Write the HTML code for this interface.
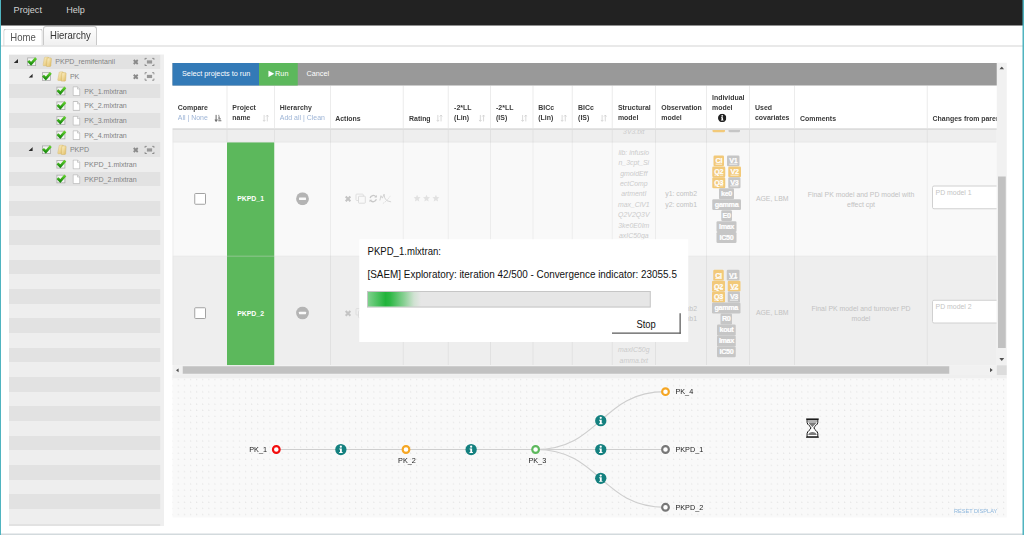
<!DOCTYPE html>
<html>
<head>
<meta charset="utf-8">
<title>Hierarchy</title>
<style>
html,body{margin:0;padding:0;}
body{width:1024px;height:535px;overflow:hidden;background:#fff;position:relative;font-family:"Liberation Sans",sans-serif;color:#333;}
.abs{position:absolute;}
#frameL{left:0;top:0;width:1.2px;height:535px;background:#50b4c0;z-index:50;}
#frameR{left:1022.4px;top:0;width:1.6px;height:535px;background:#50b4c0;z-index:50;}
#frameB{left:1px;top:533.6px;width:1022px;height:1.4px;background:#d3dadd;z-index:49;}
#topbar{left:0;top:0;width:1024px;height:25.4px;background:#222;}
#topbar span{position:absolute;top:5px;font-size:9.1px;color:#d2d2d2;line-height:10px;white-space:nowrap;}
.tab{position:absolute;box-sizing:border-box;border:1px solid #c9c9c9;border-bottom:none;border-radius:3px 3px 0 0;font-size:10.1px;line-height:10px;white-space:nowrap;}
.tab span{transform:scaleX(0.945);transform-origin:0 0;}
#tabline{left:1px;top:45.4px;width:1022px;height:1px;background:#d4d4d4;}
/* tree */
#treePanel{left:9px;top:54.4px;width:155px;height:471.6px;background:#efefef;overflow:hidden;}
#treeStripes{left:0;top:0;width:151.2px;height:480px;background:repeating-linear-gradient(to bottom,#e2e2e2 0,#e2e2e2 14.66px,#eeeeee 14.66px,#eeeeee 29.32px);}
.trow{position:absolute;left:0;height:14.66px;width:151px;font-size:7.08px;line-height:14.66px;color:#828282;white-space:nowrap;}
.trow .lbl{position:absolute;top:0.2px;}
.trow svg{position:absolute;}
/* main table */
#toolbar{left:172.5px;top:62.9px;width:824.2px;height:22.5px;background:#999;z-index:2;}
#tbBlue{left:0;top:0;width:86.6px;height:22.5px;background:#337ab7;}
#tbGreen{left:86.6px;top:0;width:38.7px;height:22.5px;background:#5cb85c;}
#toolbar span{position:absolute;top:5.8px;font-size:7.27px;line-height:10px;color:#fff;white-space:nowrap;}
#thead{left:172.5px;top:85.4px;width:824.2px;height:42.7px;background:#fff;overflow:hidden;}
#theadBorder{left:172.5px;top:128.3px;width:824.2px;height:1.8px;background:#dcdcdc;z-index:2;}
.vline{position:absolute;width:1px;background:#e4e4e4;}
.th{position:absolute;margin-top:0.3px;font-size:6.95px;font-weight:bold;color:#3a3a3a;line-height:10.35px;white-space:nowrap;}
.th a{font-weight:normal;color:#9db4d6;}
#tbody{left:172.5px;top:129.8px;width:824.2px;height:235.4px;overflow:hidden;background:#f9f9f9;}
.cell{position:absolute;white-space:nowrap;}
.sm{font-size:6.9px;line-height:10.45px;color:#c2c2c2;}
.it{font-style:italic;color:#cbcbcb;}
.pn{font-size:6.9px;font-weight:bold;color:#fff;line-height:10px;}
.tag{position:absolute;height:10.9px;border-radius:1.3px;color:#fff;font-size:7.2px;font-weight:bold;line-height:10.7px;text-align:center;white-space:nowrap;overflow:hidden;letter-spacing:-0.35px;-webkit-text-stroke:0.22px #fff;}
.tag.y{background:#f2c979;}
.tag.g{background:#c6c6c6;}
.tag u{text-decoration-thickness:0.7px;text-underline-offset:0.6px;}
.ta{box-sizing:border-box;width:80px;height:23.8px;border:1px solid #d0d0d0;border-radius:2px;background:#fff;font-size:6.9px;line-height:10px;color:#c4c4c4;padding:1.1px 0 0 2.6px;white-space:nowrap;}
/* scrollbars */
#vsb{left:996.8px;top:62.8px;width:9.9px;height:302.4px;background:#f1f1f1;}
#hsb{left:172.5px;top:365.2px;width:824.3px;height:9.9px;background:#f1f1f1;}
#sbCorner{left:996.8px;top:365.2px;width:9.9px;height:9.9px;background:#dcdcdc;}
/* graph */
#graph{left:172.5px;top:378.6px;width:834.2px;height:138.8px;background-color:#f9f9f9;overflow:hidden;background-image:radial-gradient(circle at 0.6px 1.1px,#e6e6e6 0,#e6e6e6 0.45px,rgba(230,230,230,0) 0.9px);background-size:6.114px 6.14px;background-position:-0.9px 0px;}
/* dialog */
#dlg{left:359.2px;top:239.3px;width:329px;height:102.6px;background:#fff;z-index:20;}
#dlg .t{position:absolute;left:8.4px;font-size:9.65px;line-height:11px;color:#111;white-space:nowrap;}
</style>
</head>
<body>
<div id="zz" style="position:absolute;left:0;top:0;width:1024px;height:535px;zoom:4;transform:scale(0.25);transform-origin:0 0;overflow:hidden">
<svg width="0" height="0" style="position:absolute">
<defs>
<linearGradient id="gfold" x1="0" y1="0" x2="1" y2="1"><stop offset="0" stop-color="#fff6d2"/><stop offset="1" stop-color="#dfb95c"/></linearGradient>
<linearGradient id="ggrn" x1="0" y1="0" x2="0" y2="1"><stop offset="0" stop-color="#63d22e"/><stop offset="1" stop-color="#1f8f12"/></linearGradient>
<symbol id="chk" viewBox="0 0 11 11" overflow="visible">
<rect x="0.9" y="1.9" width="8" height="7.7" fill="#f3f3f3" stroke="#a9a9a9" stroke-width="0.8"/>
<path d="M1.5 4.9 L4.3 7.8 L9.3 2.2" fill="none" stroke="url(#ggrn)" stroke-width="2.7" stroke-linejoin="miter"/>
</symbol>
<symbol id="fold" viewBox="0 0 10 10.4" overflow="visible">
<path d="M1.2 9.2 Q0.6 9.2 0.8 8.4 L2.2 1.4 Q2.4 0.5 3.2 0.5 L5.6 0.5 Q6.4 0.5 6.3 1.4 L5.6 9.2 Z" fill="url(#gfold)" stroke="#d9bd72" stroke-width="0.5"/>
<path d="M4.4 10 L4.9 2.2 Q5 1.4 5.8 1.4 L8.2 1.4 Q9.2 1.4 9.1 2.4 L8.6 9.2 Q8.5 10 7.8 10 Z" fill="url(#gfold)" stroke="#d2b463" stroke-width="0.5"/>
</symbol>
<symbol id="file" viewBox="0 0 8 10" overflow="visible">
<path d="M0.6 0.5 H5 L7.3 2.8 V9.4 H0.6 Z" fill="#fff" stroke="#b5b5b5" stroke-width="0.8"/>
<path d="M5 0.5 V2.8 H7.3" fill="#eee" stroke="#b5b5b5" stroke-width="0.6"/>
</symbol>
<symbol id="tx" viewBox="0 0 6 6" overflow="visible">
<path d="M1 1 L5 5 M5 1 L1 5" stroke="#8a8a8a" stroke-width="1.9" fill="none"/>
</symbol>
<symbol id="exp" viewBox="0 0 10 8.4" overflow="visible">
<path d="M0.4 2.2 V0.4 H2.4 M7.6 0.4 H9.6 V2.2 M9.6 6.2 V8 H7.6 M2.4 8 H0.4 V6.2" stroke="#7c7c7c" stroke-width="1" fill="none"/>
<rect x="2.4" y="2.6" width="5.2" height="3.2" fill="#979797"/>
</symbol>
<symbol id="info" viewBox="0 0 12 12" overflow="visible">
<circle cx="6" cy="6" r="5.8" fill="#14807f"/>
<circle cx="6" cy="3.1" r="1.15" fill="#fff"/>
<path d="M4.4 5 H7 V8.6 H7.8 V9.6 H4.3 V8.6 H5.1 V6 H4.4 Z" fill="#fff"/>
</symbol>
<symbol id="acts" viewBox="0 0 48 12" overflow="visible">
<path d="M1.2 4 L5.9 8.8 M5.9 4 L1.2 8.8" stroke="#c4c4c4" stroke-width="2" fill="none"/>
<rect x="11.5" y="1.6" width="7.3" height="6.4" rx="0.8" fill="none" stroke="#d9d9d9" stroke-width="0.8"/>
<rect x="14" y="3.7" width="6.8" height="7" rx="0.8" fill="#f9f9f9" stroke="#d6d6d6" stroke-width="0.8"/>
<path d="M25.6 5.6 A3.2 3.2 0 0 1 31.4 4.4 M31.8 6.6 A3.2 3.2 0 0 1 26 7.8" stroke="#c9c9c9" stroke-width="1.3" fill="none"/>
<path d="M32.4 2.4 V5 H29.8 Z M25 9.8 V7.2 H27.6 Z" fill="#c9c9c9"/>
<path d="M35.4 8 L36.4 3.2 L37.8 5.6 L39.6 1.6 L40.2 5.4 Q41.4 9 46.6 9.4" stroke="#cfcfcf" stroke-width="0.9" fill="none"/>
<path d="M38.4 11 Q43 8 45.8 3.4" stroke="#d4d4d4" stroke-width="0.7" fill="none" stroke-dasharray="1.6 0.8"/>
</symbol>
<symbol id="stars" viewBox="0 0 27 8" overflow="visible">
<path id="st1" d="M3.6 0.3 L4.6 2.6 L7.1 2.8 L5.2 4.5 L5.8 7 L3.6 5.7 L1.4 7 L2 4.5 L0.1 2.8 L2.6 2.6 Z" fill="#e1e1e1"/>
<use href="#st1" x="9.4"/><use href="#st1" x="18.8"/>
</symbol>
</defs>
</svg>
<div id="topbar" class="abs"><span style="left:13.6px">Project</span><span style="left:66.2px">Help</span></div>
<div class="tab" style="left:3.2px;top:28.4px;width:39.6px;height:17.6px;background:#fff;color:#555;"><span style="position:absolute;left:6px;top:3.2px">Home</span></div>
<div class="tab" style="left:43px;top:26px;width:54px;height:19.6px;background:linear-gradient(#fdfdfd,#f0f0f0);color:#333;"><span style="position:absolute;left:6px;top:3.7px;">Hierarchy</span></div>
<div id="tabline" class="abs"></div>

<div id="treePanel" class="abs">
  <div id="treeStripes" class="abs"></div>
  <!--TREE-->
  <div class="trow" style="top:0.00px"><svg style="left:4.8px;top:4.7px" width="4.3" height="4" viewBox="0 0 4.3 4"><path d="M4.3 0V4H0Z" fill="#2b2b2b"/></svg><svg style="left:17.8px;top:1.6px" width="11" height="11" viewBox="0 0 11 11"><use href="#chk"/></svg><svg style="left:33.2px;top:2.2px" width="10" height="10.4" viewBox="0 0 10 10.4"><use href="#fold"/></svg><span class="lbl" style="left:46.2px">PKPD_remifentanil</span><svg style="left:123.8px;top:4.6px" width="6" height="6" viewBox="0 0 6 6"><use href="#tx"/></svg><svg style="left:135.6px;top:3.3px" width="10" height="8.4" viewBox="0 0 10 8.4"><use href="#exp"/></svg></div>
  <div class="trow" style="top:14.66px"><svg style="left:19.5px;top:4.7px" width="4.3" height="4" viewBox="0 0 4.3 4"><path d="M4.3 0V4H0Z" fill="#2b2b2b"/></svg><svg style="left:32.5px;top:1.6px" width="11" height="11" viewBox="0 0 11 11"><use href="#chk"/></svg><svg style="left:47.9px;top:2.2px" width="10" height="10.4" viewBox="0 0 10 10.4"><use href="#fold"/></svg><span class="lbl" style="left:60.9px">PK</span><svg style="left:123.8px;top:4.6px" width="6" height="6" viewBox="0 0 6 6"><use href="#tx"/></svg><svg style="left:135.6px;top:3.3px" width="10" height="8.4" viewBox="0 0 10 8.4"><use href="#exp"/></svg></div>
  <div class="trow" style="top:29.32px"><svg style="left:46.9px;top:1.6px" width="11" height="11" viewBox="0 0 11 11"><use href="#chk"/></svg><svg style="left:63.4px;top:2.6px" width="8" height="10" viewBox="0 0 8 10"><use href="#file"/></svg><span class="lbl" style="left:75.3px">PK_1.mlxtran</span></div>
  <div class="trow" style="top:43.98px"><svg style="left:46.9px;top:1.6px" width="11" height="11" viewBox="0 0 11 11"><use href="#chk"/></svg><svg style="left:63.4px;top:2.6px" width="8" height="10" viewBox="0 0 8 10"><use href="#file"/></svg><span class="lbl" style="left:75.3px">PK_2.mlxtran</span></div>
  <div class="trow" style="top:58.64px"><svg style="left:46.9px;top:1.6px" width="11" height="11" viewBox="0 0 11 11"><use href="#chk"/></svg><svg style="left:63.4px;top:2.6px" width="8" height="10" viewBox="0 0 8 10"><use href="#file"/></svg><span class="lbl" style="left:75.3px">PK_3.mlxtran</span></div>
  <div class="trow" style="top:73.30px"><svg style="left:46.9px;top:1.6px" width="11" height="11" viewBox="0 0 11 11"><use href="#chk"/></svg><svg style="left:63.4px;top:2.6px" width="8" height="10" viewBox="0 0 8 10"><use href="#file"/></svg><span class="lbl" style="left:75.3px">PK_4.mlxtran</span></div>
  <div class="trow" style="top:87.96px"><svg style="left:19.5px;top:4.7px" width="4.3" height="4" viewBox="0 0 4.3 4"><path d="M4.3 0V4H0Z" fill="#2b2b2b"/></svg><svg style="left:32.5px;top:1.6px" width="11" height="11" viewBox="0 0 11 11"><use href="#chk"/></svg><svg style="left:47.9px;top:2.2px" width="10" height="10.4" viewBox="0 0 10 10.4"><use href="#fold"/></svg><span class="lbl" style="left:60.9px">PKPD</span><svg style="left:123.8px;top:4.6px" width="6" height="6" viewBox="0 0 6 6"><use href="#tx"/></svg><svg style="left:135.6px;top:3.3px" width="10" height="8.4" viewBox="0 0 10 8.4"><use href="#exp"/></svg></div>
  <div class="trow" style="top:102.62px"><svg style="left:46.9px;top:1.6px" width="11" height="11" viewBox="0 0 11 11"><use href="#chk"/></svg><svg style="left:63.4px;top:2.6px" width="8" height="10" viewBox="0 0 8 10"><use href="#file"/></svg><span class="lbl" style="left:75.3px">PKPD_1.mlxtran</span></div>
  <div class="trow" style="top:117.28px"><svg style="left:46.9px;top:1.6px" width="11" height="11" viewBox="0 0 11 11"><use href="#chk"/></svg><svg style="left:63.4px;top:2.6px" width="8" height="10" viewBox="0 0 8 10"><use href="#file"/></svg><span class="lbl" style="left:75.3px">PKPD_2.mlxtran</span></div>
  <!--/TREE-->
</div>

<div id="toolbar" class="abs">
  <div id="tbBlue" class="abs"></div><div id="tbGreen" class="abs"></div>
  <span style="left:9.5px">Select projects to run</span>
  <span style="left:102.6px">Run</span>
  <span style="left:134px">Cancel</span>
  <svg class="abs" style="left:95.7px;top:7.6px" width="6" height="6.6" viewBox="0 0 6 6.6"><path d="M0 0 L6 3.3 L0 6.6 Z" fill="#fff"/></svg>
</div>
<div id="thead" class="abs">
  <!--THEAD-->
  <div class="vline" style="left:53.9px;top:0;height:43px;background:#ececec"></div>
  <div class="vline" style="left:101.4px;top:0;height:43px;background:#ececec"></div>
  <div class="vline" style="left:157.4px;top:0;height:43px;background:#ececec"></div>
  <div class="vline" style="left:230.3px;top:0;height:43px;background:#ececec"></div>
  <div class="vline" style="left:275.3px;top:0;height:43px;background:#ececec"></div>
  <div class="vline" style="left:317.6px;top:0;height:43px;background:#ececec"></div>
  <div class="vline" style="left:360.0px;top:0;height:43px;background:#ececec"></div>
  <div class="vline" style="left:399.3px;top:0;height:43px;background:#ececec"></div>
  <div class="vline" style="left:439.2px;top:0;height:43px;background:#ececec"></div>
  <div class="vline" style="left:482.5px;top:0;height:43px;background:#ececec"></div>
  <div class="vline" style="left:533.6px;top:0;height:43px;background:#ececec"></div>
  <div class="vline" style="left:576.6px;top:0;height:43px;background:#ececec"></div>
  <div class="vline" style="left:621.5px;top:0;height:43px;background:#ececec"></div>
  <div class="vline" style="left:754.3px;top:0;height:43px;background:#ececec"></div>
  <div class="th" style="left:5.3px;top:16.8px">Compare<br><a>All | None</a></div>
  <svg class="abs" style="left:42.1px;top:29.2px" width="7.2" height="7.4" viewBox="0 0 7.2 7.4"><path d="M1.6 0.2V6.4M0.2 5L1.6 6.8L3 5" stroke="#6f6f6f" stroke-width="1.05" fill="none"/><path d="M3.8 0.8H4.8M3.8 2.6H5.4M3.8 4.4H6.2M3.8 6.2H7" stroke="#6f6f6f" stroke-width="1.1" fill="none"/></svg>
  <div class="th" style="left:59.8px;top:16.8px">Project<br>name</div>
  <svg class="abs" style="left:90.1px;top:29.3px" width="6.4" height="7" viewBox="0 0 6.4 7"><path d="M1.6 0.2V6.6M0.3 5.2L1.6 6.7L2.9 5.2M4.8 6.8V0.4M3.5 1.8L4.8 0.3L6.1 1.8" stroke="#cfcfcf" stroke-width="0.8" fill="none"/></svg>
  <div class="th" style="left:107.3px;top:16.8px">Hierarchy<br><a>Add all | Clean</a></div>
  <div class="th" style="left:162.7px;top:27.3px">Actions</div>
  <div class="th" style="left:236.5px;top:27.3px">Rating</div>
  <svg class="abs" style="left:263.8px;top:29.3px" width="6.4" height="7" viewBox="0 0 6.4 7"><path d="M1.6 0.2V6.6M0.3 5.2L1.6 6.7L2.9 5.2M4.8 6.8V0.4M3.5 1.8L4.8 0.3L6.1 1.8" stroke="#cfcfcf" stroke-width="0.8" fill="none"/></svg>
  <div class="th" style="left:281.6px;top:16.8px">-2*LL<br>(Lin)</div>
  <svg class="abs" style="left:306.3px;top:29.3px" width="6.4" height="7" viewBox="0 0 6.4 7"><path d="M1.6 0.2V6.6M0.3 5.2L1.6 6.7L2.9 5.2M4.8 6.8V0.4M3.5 1.8L4.8 0.3L6.1 1.8" stroke="#cfcfcf" stroke-width="0.8" fill="none"/></svg>
  <div class="th" style="left:323.5px;top:16.8px">-2*LL<br>(IS)</div>
  <svg class="abs" style="left:348.4px;top:29.3px" width="6.4" height="7" viewBox="0 0 6.4 7"><path d="M1.6 0.2V6.6M0.3 5.2L1.6 6.7L2.9 5.2M4.8 6.8V0.4M3.5 1.8L4.8 0.3L6.1 1.8" stroke="#cfcfcf" stroke-width="0.8" fill="none"/></svg>
  <div class="th" style="left:365.8px;top:16.8px">BICc<br>(Lin)</div>
  <svg class="abs" style="left:388.0px;top:29.3px" width="6.4" height="7" viewBox="0 0 6.4 7"><path d="M1.6 0.2V6.6M0.3 5.2L1.6 6.7L2.9 5.2M4.8 6.8V0.4M3.5 1.8L4.8 0.3L6.1 1.8" stroke="#cfcfcf" stroke-width="0.8" fill="none"/></svg>
  <div class="th" style="left:405.6px;top:16.8px">BICc<br>(IS)</div>
  <svg class="abs" style="left:428.0px;top:29.3px" width="6.4" height="7" viewBox="0 0 6.4 7"><path d="M1.6 0.2V6.6M0.3 5.2L1.6 6.7L2.9 5.2M4.8 6.8V0.4M3.5 1.8L4.8 0.3L6.1 1.8" stroke="#cfcfcf" stroke-width="0.8" fill="none"/></svg>
  <div class="th" style="left:445.4px;top:16.8px">Structural<br>model</div>
  <div class="th" style="left:488.8px;top:16.8px">Observation<br>model</div>
  <div class="th" style="left:539.5px;top:6.3px">Individual<br>model</div>
  <svg class="abs" style="left:545.4px;top:28.3px" width="8.4" height="8.4" viewBox="0 0 12 12"><circle cx="6" cy="6" r="6" fill="#222"/><circle cx="6" cy="3" r="1.3" fill="#fff"/><path d="M4.3 5H7.1V8.7H7.9V9.8H4.2V8.7H5V6.1H4.3Z" fill="#fff"/></svg>
  <div class="th" style="left:582.5px;top:16.8px">Used<br>covariates</div>
  <div class="th" style="left:627.6px;top:27.3px">Comments</div>
  <div class="th" style="left:760.1px;top:27.3px">Changes from parent</div>
  <!--/THEAD-->
</div>
<div id="theadBorder" class="abs"></div>
<div id="tbody" class="abs">
  <!--TBODY-->
  <div class="abs" style="left:0;top:0;width:825px;height:12.4px;background:#eeeeee"></div>
  <div class="abs" style="left:0;top:12.4px;width:825px;height:114px;background:#f9f9f9"></div>
  <div class="abs" style="left:0;top:126.4px;width:825px;height:110px;background:#eeeeee"></div>
  <div class="abs" style="left:54.6px;top:12.4px;width:47.1px;height:224px;background:#5cb85c"></div>
  <div class="abs" style="left:0;top:126px;width:825px;height:0.8px;background:rgba(221,221,221,.55)"></div>
  <div class="abs" style="left:0;top:12px;width:825px;height:0.8px;background:rgba(221,221,221,.55)"></div>
  <div class="abs" style="left:0;top:0;width:0.8px;height:236px;background:#e3e3e3"></div>
  <div class="vline" style="left:53.9px;top:0;height:12.4px;background:#e2e2e2"></div>
  <div class="vline" style="left:101.4px;top:0;height:12.4px;background:#e2e2e2"></div>
  <div class="vline" style="left:157.4px;top:0;height:236px;background:rgba(0,0,0,0.05)"></div>
  <div class="vline" style="left:230.3px;top:0;height:236px;background:rgba(0,0,0,0.05)"></div>
  <div class="vline" style="left:275.3px;top:0;height:236px;background:rgba(0,0,0,0.05)"></div>
  <div class="vline" style="left:317.6px;top:0;height:236px;background:rgba(0,0,0,0.05)"></div>
  <div class="vline" style="left:360.0px;top:0;height:236px;background:rgba(0,0,0,0.05)"></div>
  <div class="vline" style="left:399.3px;top:0;height:236px;background:rgba(0,0,0,0.05)"></div>
  <div class="vline" style="left:439.2px;top:0;height:236px;background:rgba(0,0,0,0.05)"></div>
  <div class="vline" style="left:482.5px;top:0;height:236px;background:rgba(0,0,0,0.05)"></div>
  <div class="vline" style="left:533.6px;top:0;height:236px;background:rgba(0,0,0,0.05)"></div>
  <div class="vline" style="left:576.6px;top:0;height:236px;background:rgba(0,0,0,0.05)"></div>
  <div class="vline" style="left:621.5px;top:0;height:236px;background:rgba(0,0,0,0.05)"></div>
  <div class="vline" style="left:754.3px;top:0;height:236px;background:rgba(0,0,0,0.05)"></div>
  <div class="cell sm it" style="left:439.8px;top:-3.9px;width:43px;text-align:center">3V3.txt</div>
  <div class="tag y" style="left:540.0px;top:-8.4px;width:12.4px"></div>
  <div class="tag g" style="left:556.1px;top:-8.4px;width:11.4px"></div>
  <div class="abs" style="left:21.7px;top:63.1px;width:9.9px;height:9.9px;border:1px solid #a2a2a2;background:#fff;border-radius:1.2px"></div>
  <div class="cell pn" style="left:54.6px;top:64.2px;width:47px;text-align:center">PKPD_1</div>
  <svg class="abs" style="left:123.6px;top:62.5px" width="13" height="13" viewBox="0 0 13 13"><circle cx="6.5" cy="6.5" r="6.4" fill="#b4b4b4"/><rect x="3" y="5.3" width="7" height="2.4" rx="0.4" fill="#f9f9f9"/></svg>
  <svg class="abs" style="left:171.9px;top:62.8px" width="48" height="12" viewBox="0 0 48 12"><use href="#acts"/></svg>
  <svg class="abs" style="left:240.9px;top:64.6px" width="27" height="8" viewBox="0 0 27 8"><use href="#stars"/></svg>
  <div class="cell sm it" style="left:439.8px;top:17.2px;width:43px;text-align:center">lib: infusio<br>n_3cpt_Si<br>gmoidEff<br>ectComp<br>artmentI<br>max_ClV1<br>Q2V2Q3V<br>3ke0E0Im<br>axIC50ga<br>mma.txt</div>
  <div class="cell sm" style="left:483.1px;top:59.0px;width:51px;text-align:center">y1: comb2<br>y2: comb1</div>
  <div class="tag y" style="left:541.1px;top:25.6px;width:10.4px"><u>Cl</u></div>
  <div class="tag g" style="left:554.5px;top:25.6px;width:12.6px"><u>V1</u></div>
  <div class="tag y" style="left:539.8px;top:36.6px;width:12.9px"><u>Q2</u></div>
  <div class="tag y" style="left:555.7px;top:36.6px;width:12.7px"><u>V2</u></div>
  <div class="tag y" style="left:539.8px;top:47.5px;width:12.9px"><u>Q3</u></div>
  <div class="tag g" style="left:555.7px;top:47.5px;width:12.2px"><u>V3</u></div>
  <div class="tag g" style="left:546.4px;top:58.5px;width:15.2px">ke0</div>
  <div class="tag g" style="left:539.8px;top:69.4px;width:28.6px">gamma</div>
  <div class="tag g" style="left:548.7px;top:80.4px;width:10.9px">E0</div>
  <div class="tag g" style="left:543.9px;top:91.4px;width:20.2px">Imax</div>
  <div class="tag g" style="left:543.9px;top:102.3px;width:20.2px">IC50</div>
  <div class="cell sm" style="left:577.2px;top:63.6px;width:45px;text-align:center">AGE, LBM</div>
  <div class="cell sm" style="left:622.0px;top:59.9px;width:133px;text-align:center;line-height:9.8px">Final PK model and PD model with<br>effect cpt</div>
  <div class="abs ta" style="left:759.5px;top:55.7px;">PD model 1</div>
  <div class="abs" style="left:21.7px;top:177.4px;width:9.9px;height:9.9px;border:1px solid #a2a2a2;background:#fff;border-radius:1.2px"></div>
  <div class="cell pn" style="left:54.6px;top:178.5px;width:47px;text-align:center">PKPD_2</div>
  <svg class="abs" style="left:123.6px;top:176.8px" width="13" height="13" viewBox="0 0 13 13"><circle cx="6.5" cy="6.5" r="6.4" fill="#b4b4b4"/><rect x="3" y="5.3" width="7" height="2.4" rx="0.4" fill="#f9f9f9"/></svg>
  <svg class="abs" style="left:171.9px;top:177.1px" width="48" height="12" viewBox="0 0 48 12"><use href="#acts"/></svg>
  <svg class="abs" style="left:240.9px;top:178.9px" width="27" height="8" viewBox="0 0 27 8"><use href="#stars"/></svg>
  <div class="cell sm it" style="left:439.8px;top:131.3px;width:43px;text-align:center">&nbsp;<br>&nbsp;<br>&nbsp;<br>&nbsp;<br>&nbsp;<br>&nbsp;<br>&nbsp;<br>&nbsp;<br>maxIC50g<br>amma.txt</div>
  <div class="cell sm" style="left:483.1px;top:173.3px;width:51px;text-align:center">y1: comb2<br>y2: comb1</div>
  <div class="tag y" style="left:540.8px;top:139.9px;width:10.4px"><u>Cl</u></div>
  <div class="tag g" style="left:554.3px;top:139.9px;width:12.6px"><u>V1</u></div>
  <div class="tag y" style="left:539.5px;top:150.9px;width:13.0px"><u>Q2</u></div>
  <div class="tag y" style="left:555.3px;top:150.9px;width:12.8px"><u>V2</u></div>
  <div class="tag y" style="left:539.5px;top:161.8px;width:13.0px"><u>Q3</u></div>
  <div class="tag g" style="left:555.3px;top:161.8px;width:12.3px"><u>V3</u></div>
  <div class="tag g" style="left:539.5px;top:172.8px;width:28.6px">gamma</div>
  <div class="tag g" style="left:547.9px;top:183.7px;width:11.7px">R0</div>
  <div class="tag g" style="left:544.5px;top:194.7px;width:18.8px">kout</div>
  <div class="tag g" style="left:544.5px;top:205.7px;width:18.8px">Imax</div>
  <div class="tag g" style="left:544.5px;top:216.6px;width:18.8px">IC50</div>
  <div class="cell sm" style="left:577.2px;top:177.9px;width:45px;text-align:center">AGE, LBM</div>
  <div class="cell sm" style="left:622.0px;top:174.2px;width:133px;text-align:center;line-height:9.8px">Final PK model and turnover PD<br>model</div>
  <div class="abs ta" style="left:759.5px;top:170.0px;">PD model 2</div>
  <!--/TBODY-->
</div>
<div id="vsb" class="abs"><svg class="abs" style="left:2.4px;top:3.8px" width="5" height="2.9" viewBox="0 0 5 2.9"><path d="M0 2.9L2.5 0L5 2.9Z" fill="#505050"/></svg>
<div class="abs" style="left:1.3px;top:113.7px;width:7.6px;height:171.5px;background:#c1c1c1"></div>
<svg class="abs" style="left:2.5px;top:295.2px" width="5" height="2.9" viewBox="0 0 5 2.9"><path d="M0 0L2.5 2.9L5 0Z" fill="#505050"/></svg></div>
<div id="hsb" class="abs"><svg class="abs" style="left:3.4px;top:3.1px" width="2.8" height="4.2" viewBox="0 0 2.8 4.2"><path d="M2.8 0L0 2.1L2.8 4.2Z" fill="#505050"/></svg>
<div class="abs" style="left:10.3px;top:1.1px;width:766.4px;height:7.5px;background:#c1c1c1"></div>
<svg class="abs" style="left:817.4px;top:2.9px" width="2.8" height="4.2" viewBox="0 0 2.8 4.2"><path d="M0 0L2.8 2.1L0 4.2Z" fill="#505050"/></svg></div>
<div id="sbCorner" class="abs"></div>
<div class="abs" style="left:172.2px;top:375px;width:834.6px;height:3.8px;background:#efefef"></div>

<div id="graph" class="abs">
  <svg class="abs" style="left:0;top:0" width="834.2" height="138.8" viewBox="0 0 834.2 138.8" font-family="Liberation Sans, sans-serif" font-size="7.3px" fill="#222">
  <g fill="none" stroke="#cecece" stroke-width="1.2">
  <path d="M103.8 71.0 H493.0"/>
  <path d="M363.1 71.0 C428.0 71.0 428.0 13.2 493.0 13.2"/>
  <path d="M363.1 71.0 C428.0 71.0 428.0 128.8 493.0 128.8"/>
  </g>
  <circle cx="103.8" cy="71.0" r="3.35" fill="#fff" stroke="#f20d0d" stroke-width="2.15"/>
  <circle cx="233.5" cy="71.0" r="3.35" fill="#fff" stroke="#f5a623" stroke-width="2.15"/>
  <circle cx="363.1" cy="71.0" r="3.35" fill="#fff" stroke="#5cb85c" stroke-width="2.15"/>
  <circle cx="493.0" cy="13.2" r="3.35" fill="#fff" stroke="#f5a623" stroke-width="2.15"/>
  <circle cx="493.0" cy="71.0" r="3.35" fill="#fff" stroke="#777" stroke-width="2.15"/>
  <circle cx="493.0" cy="128.8" r="3.35" fill="#fff" stroke="#777" stroke-width="2.15"/>
  <use href="#info" x="162.5" y="65.2" width="11.7" height="11.7"/>
  <use href="#info" x="292.8" y="65.2" width="11.7" height="11.7"/>
  <use href="#info" x="422.4" y="36.3" width="11.7" height="11.7"/>
  <use href="#info" x="422.4" y="65.2" width="11.7" height="11.7"/>
  <use href="#info" x="422.4" y="94.0" width="11.7" height="11.7"/>
  <text x="94.5" y="73.5" text-anchor="end">PK_1</text>
  <text x="234.5" y="84.6" text-anchor="middle">PK_2</text>
  <text x="364.8" y="84.6" text-anchor="middle">PK_3</text>
  <text x="502.9" y="15.7" text-anchor="start">PK_4</text>
  <text x="502.9" y="73.5" text-anchor="start">PKPD_1</text>
  <text x="502.9" y="131.3" text-anchor="start">PKPD_2</text>
  <text x="781.5" y="134.7" font-size="5.6px" fill="#8db6dc">RESET DISPLAY</text>
  <g transform="translate(633.3 39.9)">
  <path d="M1.3 1 V4 C1.3 6.6 5.1 7.7 5.1 9.5 C5.1 11.3 1.3 12.6 1.3 15.2 V18.2 H12 V15.2 C12 12.6 8.2 11.3 8.2 9.5 C8.2 7.7 12 6.6 12 4 V1 Z" fill="#fff" stroke="#111" stroke-width="1"/>
  <path d="M2 1.4 H11.3 V3.9 H2 Z" fill="#b2b2b2"/>
  <path d="M2.6 4.2 H10.7 C10 6.2 7.4 7.2 6.9 8.6 H6.4 C5.9 7.2 3.3 6.2 2.6 4.2 Z" fill="#7a7a7a"/>
  <path d="M2.4 16.7 C2.6 14.8 4.6 13.6 6.65 13.6 C8.7 13.6 10.7 14.8 10.9 16.7 Z" fill="#7d7d7d"/>
  <path d="M0.3 0.7 H13 M0.3 18.7 H13" stroke="#111" stroke-width="1.1"/>
  <path d="M1.9 17.4 H11.4" stroke="#fff" stroke-width="0.8"/>
  </g>
  </svg>
</div>

<div id="dlg" class="abs">
  <div class="t" style="top:5.9px;font-size:10.6px;line-height:12px;transform:scaleX(0.904);transform-origin:0 0">PKPD_1.mlxtran:</div>
<div class="t" style="top:29.2px;font-size:10.6px;line-height:12px;transform:scaleX(0.9345);transform-origin:0 0">[SAEM] Exploratory: iteration 42/500 - Convergence indicator: 23055.5</div>
<div class="abs" style="left:7.7px;top:51.8px;width:283.8px;height:16.5px;box-sizing:border-box;border:1px solid #c6c6c6;background:#e6e6e6;overflow:hidden"><div class="abs" style="left:0;top:0;width:53px;height:15px;background:linear-gradient(to right,#7ed18c 0,#22b33b 17.5px,#2db845 22px,rgba(60,190,80,.55) 36px,rgba(120,210,130,.2) 46px,rgba(230,230,230,0) 53px)"></div></div>
<div class="abs" style="left:252.8px;top:73.9px;width:68.7px;height:20.6px;box-sizing:border-box;background:#fff;border-right:1.3px solid #5a5a5a;border-bottom:1.3px solid #5a5a5a;"><div class="abs" style="left:24.6px;top:5.2px;font-size:10.6px;line-height:12px;color:#111;white-space:nowrap;transform:scaleX(0.885);transform-origin:0 0">Stop</div></div>
</div>

<div id="frameL" class="abs"></div><div id="frameR" class="abs"></div><div id="frameB" class="abs"></div>
</div>
</body>
</html>
